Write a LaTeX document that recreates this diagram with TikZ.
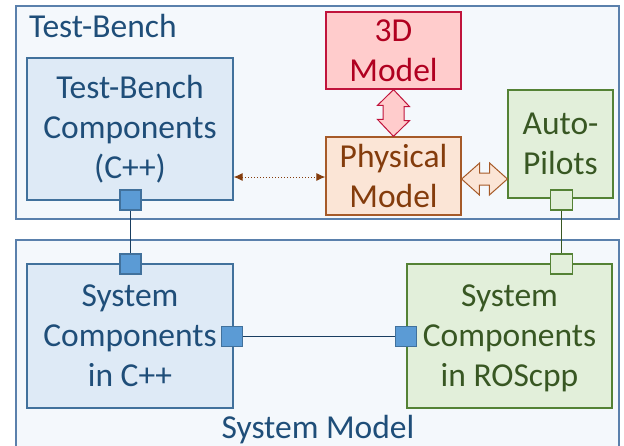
\documentclass[tikz,border=0pt]{standalone}
\usepackage{fontspec}
\setmainfont{Carlito}
\usetikzlibrary{arrows.meta}

\definecolor{frameline}{HTML}{5A80AC}
\definecolor{framefill}{HTML}{F4F8FC}
\definecolor{blueline}{HTML}{41719C}
\definecolor{bluefill}{HTML}{DEEAF6}
\definecolor{bluetext}{HTML}{1F4E79}
\definecolor{portblue}{HTML}{5B9BD5}
\definecolor{redline}{HTML}{C0143C}
\definecolor{redfill}{HTML}{FFCCCC}
\definecolor{redtext}{HTML}{B00020}
\definecolor{orangeline}{HTML}{A65A28}
\definecolor{orangefill}{HTML}{FBE5D6}
\definecolor{orangetext}{HTML}{843C0C}
\definecolor{greenline}{HTML}{548235}
\definecolor{greenfill}{HTML}{E2EFDA}
\definecolor{greentext}{HTML}{385723}

% a line whose descenders do not count towards the box depth
\newcommand\flatline[1]{\setbox0\hbox{#1}\dp0=0pt \box0}

\tikzset{
  frame/.style={draw=frameline, fill=framefill, line width=1.3pt},
  label/.style={inner sep=0pt, font=\fontsize{33.5}{40}\selectfont},
  block/.style={line width=1.2pt, inner sep=0pt, align=center,
    font=\fontsize{33.5}{40}\selectfont},
  bluebox/.style={block, draw=blueline, fill=bluefill, text=bluetext},
  redbox/.style={block, draw=redline, fill=redfill, text=redtext},
  orangebox/.style={block, draw=orangeline, fill=orangefill, text=orangetext},
  greenbox/.style={block, draw=greenline, fill=greenfill, text=greentext},
  portb/.style={draw=blueline, fill=portblue, line width=1.2pt,
    minimum width=21pt, minimum height=20pt, inner sep=0pt},
  portg/.style={draw=greenline, fill=greenfill, line width=1.2pt,
    minimum width=22pt, minimum height=20pt, inner sep=0pt},
  wire/.style={draw=bluetext!80!black, line width=1pt},
  gwire/.style={draw=greentext, line width=1pt},
}

\begin{document}
\begin{tikzpicture}[x=1pt, y=-1pt]
\useasboundingbox (0,0) rectangle (624,445);

% outer containers
\draw[frame] (16,6) rectangle (619,219);
\draw[frame] (16,240) rectangle (619,470);
\node[label, anchor=base west, text=bluetext] (tbtitle) at (29,37) {Test-Bench};
\node[label, anchor=base, text=bluetext] (smtitle) at (318,438) {System Model};

% test-bench blocks
\node[bluebox, minimum width=206pt, minimum height=142pt] (tbc) at (130,129)
  {Test-Bench\\Components\\(C++)};
\node[redbox, minimum width=135pt, minimum height=77pt] (model3d) at (393.5,50.5)
  {3D\\Model};
\node[orangebox, minimum width=135pt, minimum height=78pt] (phys) at (393.5,176)
  {Physical\\Model};
\node[greenbox, minimum width=105pt, minimum height=108pt] (ap) at (560.5,144)
  {Auto-\\Pilots};

% system blocks
\node[bluebox, minimum width=206pt, minimum height=144pt] (scc) at (130,336)
  {System\\Components\\in C++};
\node[greenbox, minimum width=205pt, minimum height=144pt] (scr) at (509.5,336)
  {System\\Components\\\flatline{in ROScpp}};

% vertical 3D <-> physical block arrow
\draw[draw=redline, fill=redfill, line width=1pt]
  (model3d.south) -- ++(16,17) -- ++(-5.5,0) -- ++(0,14) -- ++(5.5,0)
  -- (phys.north) -- ++(-16,-17) -- ++(5.5,0) -- ++(0,-14) -- ++(-5.5,0) -- cycle;

% horizontal physical <-> auto-pilots block arrow
\coordinate (hl) at (phys.east |- 0,179);
\coordinate (hr) at (ap.west |- 0,179);
\draw[draw=orangeline, fill=orangefill, line width=1pt]
  (hl) -- ++(18,-16) -- ++(0,10) -- ++(10,0) -- ++(0,-10) -- (hr)
  -- ++(-18,16) -- ++(0,-10) -- ++(-10,0) -- ++(0,10) -- cycle;

% dotted link between test-bench components and physical model
\draw[draw=orangetext, line width=1pt, dotted,
  {Latex[length=9pt,width=8pt]}-{Latex[length=9pt,width=8pt]}]
  (tbc.east |- 0,177) -- (phys.west |- 0,177);

% ports
\node[portb] (tbport) at (130.5,200) {};
\node[portb] (sccup) at (130.5,264) {};
\node[portb] (sccright) at (232,336.5) {};
\node[portb] (scrleft) at (406,336.5) {};
\node[portg] (apport) at (561.5,200) {};
\node[portg] (scrup) at (561.5,264) {};

% connectors
\draw[wire] (tbport) -- (sccup);
\draw[wire] (sccright) -- (scrleft);
\draw[gwire] (apport) -- (scrup);
\end{tikzpicture}
\end{document}
